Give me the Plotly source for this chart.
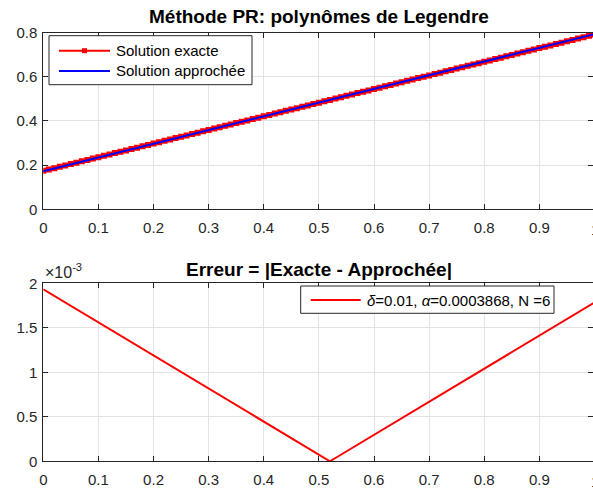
import numpy as np
import plotly.graph_objects as go

# sampling grid (x = 0, 0.01, ..., 1)
x = np.round(np.arange(101) * 0.01, 2)

# exact solution values
exact = [
    0.1740, 0.1802, 0.1863, 0.1925, 0.1987, 0.2049, 0.2110, 0.2172, 0.2234, 0.2295,
    0.2357, 0.2419, 0.2480, 0.2542, 0.2604, 0.2665, 0.2727, 0.2789, 0.2851, 0.2912,
    0.2974, 0.3036, 0.3097, 0.3159, 0.3221, 0.3283, 0.3344, 0.3406, 0.3468, 0.3529,
    0.3591, 0.3653, 0.3714, 0.3776, 0.3838, 0.3900, 0.3961, 0.4023, 0.4085, 0.4146,
    0.4208, 0.4270, 0.4331, 0.4393, 0.4455, 0.4517, 0.4578, 0.4640, 0.4702, 0.4763,
    0.4825, 0.4887, 0.4948, 0.5010, 0.5072, 0.5134, 0.5195, 0.5257, 0.5319, 0.5380,
    0.5442, 0.5504, 0.5565, 0.5627, 0.5689, 0.5751, 0.5812, 0.5874, 0.5936, 0.5997,
    0.6059, 0.6121, 0.6182, 0.6244, 0.6306, 0.6368, 0.6429, 0.6491, 0.6553, 0.6614,
    0.6676, 0.6738, 0.6799, 0.6861, 0.6923, 0.6985, 0.7046, 0.7108, 0.7170, 0.7231,
    0.7293, 0.7355, 0.7416, 0.7478, 0.7540, 0.7602, 0.7663, 0.7725, 0.7787, 0.7848,
    0.7910,
]

# signed deviation (approx - exact), in units of 1e-3
dev_e3 = [
    -1.933, -1.896, -1.859, -1.821, -1.784, -1.747, -1.710, -1.673, -1.635, -1.598,
    -1.561, -1.524, -1.487, -1.450, -1.412, -1.375, -1.338, -1.301, -1.264, -1.227,
    -1.189, -1.152, -1.115, -1.078, -1.041, -1.004, -0.966, -0.929, -0.892, -0.855,
    -0.818, -0.781, -0.743, -0.706, -0.669, -0.632, -0.595, -0.558, -0.520, -0.483,
    -0.446, -0.409, -0.372, -0.335, -0.297, -0.260, -0.223, -0.186, -0.149, -0.112,
    -0.074, -0.037, 0.000, 0.037, 0.074, 0.112, 0.149, 0.186, 0.223, 0.260,
    0.297, 0.335, 0.372, 0.409, 0.446, 0.483, 0.520, 0.558, 0.595, 0.632,
    0.669, 0.706, 0.743, 0.781, 0.818, 0.855, 0.892, 0.929, 0.966, 1.004,
    1.041, 1.078, 1.115, 1.152, 1.189, 1.227, 1.264, 1.301, 1.338, 1.375,
    1.412, 1.450, 1.487, 1.524, 1.561, 1.598, 1.635, 1.673, 1.710, 1.747,
    1.784,
]

approx = np.array(exact) + np.array(dev_e3) * 1e-3
error = np.abs(np.array(exact) - approx)

series_names = ["Solution exacte", "Solution approchée",
                "<i>δ</i>=0.01, <i>α</i>=0.0003868, N =6"]
titles = ["<b>Méthode PR: polynômes de Legendre</b>",
          "<b>Erreur = |Exacte - Approchée|</b>"]

x_ticks = [0, 0.1, 0.2, 0.3, 0.4, 0.5, 0.6, 0.7, 0.8, 0.9, 1]
x_ticklabels = ["0", "0.1", "0.2", "0.3", "0.4", "0.5", "0.6", "0.7", "0.8", "0.9", "1"]
y1_ticks = [0, 0.2, 0.4, 0.6, 0.8]
y1_ticklabels = ["0", "0.2", "0.4", "0.6", "0.8"]
y2_ticks = [0, 0.0005, 0.001, 0.0015, 0.002]
y2_ticklabels = ["0", "0.5", "1", "1.5", "2"]

FONT = "Liberation Sans, Arial, Helvetica, sans-serif"
AX = "#262626"
GRID = "#e3e3e3"
RED, BLUE = "#ff0000", "#0000ff"
W, H = 593, 491
X0, XPX = 43.3, 551.2          # pixel of x=0 and pixels per unit x
x_max = (W - X0) / XPX         # visible part of [0, 1]


def px(v):   # horizontal pixel -> paper
    return v / W


def py(v):   # vertical pixel (from top) -> paper
    return 1 - v / H


fig = go.Figure()
fig.add_trace(go.Scatter(
    x=x, y=exact, mode="lines+markers", name=series_names[0],
    line=dict(color=RED, width=2),
    marker=dict(symbol="square", size=6, color=RED),
    xaxis="x", yaxis="y"))
fig.add_trace(go.Scatter(
    x=x, y=approx, mode="lines", name=series_names[1],
    line=dict(color=BLUE, width=2),
    xaxis="x", yaxis="y"))
fig.add_trace(go.Scatter(
    x=x, y=error, mode="lines", name=series_names[2],
    line=dict(color=RED, width=2),
    xaxis="x2", yaxis="y2"))

xd = [px(X0), 1.0]
common = dict(showline=True, linecolor=AX, linewidth=1, mirror="ticks",
              ticks="inside", ticklen=5, tickcolor=AX, tickwidth=1,
              showgrid=True, gridcolor=GRID, gridwidth=1, zeroline=False,
              automargin=False,
              tickfont=dict(family=FONT, size=15, color=AX))
xcommon = dict(range=[0, x_max], tickvals=x_ticks, ticktext=x_ticklabels,
               ticklabelstandoff=5, **common)

y1_dom = [py(209.3), py(32.5)]
y2_dom = [py(461.3), py(283.3)]
title_x = px(X0 + XPX / 2)

shapes = []
annotations = [
    dict(text=titles[0], xref="paper", yref="paper",
         x=title_x, y=y1_dom[1], xanchor="center", yanchor="bottom",
         yshift=3, showarrow=False, font=dict(family=FONT, size=19, color="black")),
    dict(text=titles[1], xref="paper", yref="paper",
         x=title_x, y=y2_dom[1], xanchor="center", yanchor="bottom",
         yshift=1, showarrow=False, font=dict(family=FONT, size=19, color="black")),
    dict(text="×10<sup>-3</sup>", xref="paper", yref="paper",
         x=px(43), y=y2_dom[1], xanchor="left", yanchor="bottom",
         showarrow=False, font=dict(family=FONT, size=16, color=AX)),
]
# the last x tick label "1" sits at the figure's right edge (partly cut off)
for dom in (y1_dom, y2_dom):
    annotations.append(dict(
        text=x_ticklabels[-1], xref="paper", yref="paper", x=px(X0 + XPX * x_ticks[-1]),
        y=dom[0], xanchor="center", yanchor="top", yshift=-10, showarrow=False,
        font=dict(family=FONT, size=15, color=AX)))


# MATLAB-style legend boxes (long line samples)
def legend_box(x0, y0, x1, y1):
    shapes.append(dict(type="rect", xref="paper", yref="paper",
                       x0=px(x0), x1=px(x1), y0=py(y1), y1=py(y0),
                       line=dict(color=AX, width=1), fillcolor="white", layer="above"))


def legend_entry(xl0, xl1, yc, color, label, marker=False):
    shapes.append(dict(type="line", xref="paper", yref="paper",
                       x0=px(xl0), x1=px(xl1), y0=py(yc), y1=py(yc),
                       line=dict(color=color, width=2), layer="above"))
    if marker:
        xm = (xl0 + xl1) / 2
        shapes.append(dict(type="rect", xref="paper", yref="paper",
                           x0=px(xm - 2.5), x1=px(xm + 2.5), y0=py(yc + 2.5), y1=py(yc - 2.5),
                           line=dict(color=color, width=0), fillcolor=color, layer="above"))
    annotations.append(dict(text=label, xref="paper", yref="paper", x=px(xl1 + 4),
                            y=py(yc), xanchor="left", yanchor="middle", showarrow=False,
                            font=dict(family=FONT, size=15, color="black")))


legend_box(49, 35.7, 252, 84.7)
legend_entry(59, 110, 50.7, RED, series_names[0], marker=True)
legend_entry(59, 110, 71.0, BLUE, series_names[1])
legend_box(300.7, 286, 554, 313.3)
legend_entry(310.7, 360.7, 300, RED, series_names[2])

fig.update_layout(
    width=W, height=H,
    margin=dict(l=0, r=0, t=0, b=0),
    paper_bgcolor="white", plot_bgcolor="white",
    font=dict(family=FONT, size=15, color="black"),
    showlegend=False,
    xaxis=dict(domain=xd, anchor="y", **xcommon),
    yaxis=dict(domain=y1_dom, range=[0, 0.8], tickvals=y1_ticks,
               ticktext=y1_ticklabels, anchor="x", ticklabelstandoff=2, **common),
    xaxis2=dict(domain=xd, anchor="y2", **xcommon),
    yaxis2=dict(domain=y2_dom, range=[0, 0.002], tickvals=y2_ticks,
                ticktext=y2_ticklabels, anchor="x2", ticklabelstandoff=2, **common),
    shapes=shapes,
    annotations=annotations,
)

fig.write_html("out.html")
